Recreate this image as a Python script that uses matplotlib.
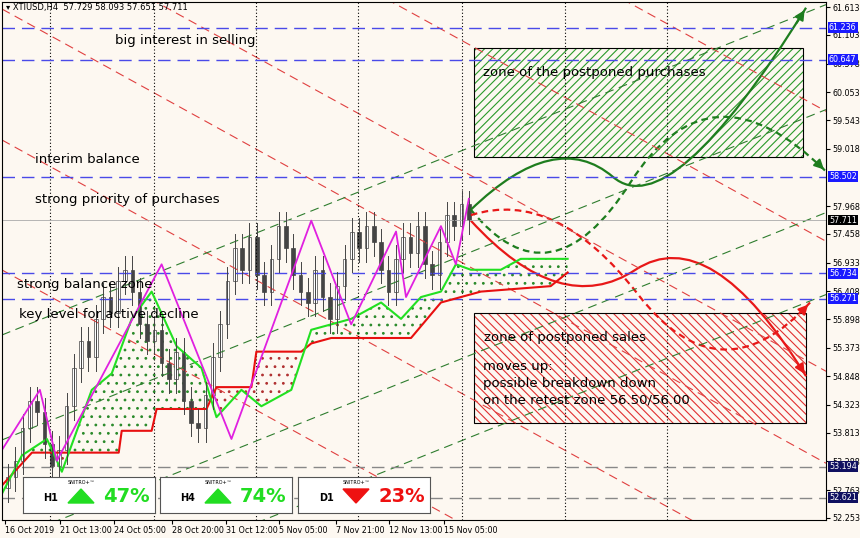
import matplotlib
matplotlib.use("Agg")
import matplotlib.pyplot as plt
from matplotlib.patches import Rectangle, Polygon
from matplotlib.path import Path
import matplotlib.patches as mpatches
import numpy as np

BG = "#fdf8f1"
plt.rcParams["hatch.linewidth"] = 0.8
# ---- data (x in chart pixel units, y in price) ----
closes = [53.0,53.3,53.9,54.4,54.2,53.6,53.2,53.5,54.3,55.0,55.5,55.2,55.9,56.3,56.0,56.6,56.8,56.4,55.8,55.5,
          55.7,55.1,54.8,55.3,54.4,54.0,53.9,54.5,55.2,55.8,56.6,57.2,56.8,57.4,56.7,56.4,57.0,57.6,57.2,56.7,
          56.4,56.2,56.8,56.3,55.9,56.5,57.0,57.5,57.2,57.6,57.3,56.8,56.4,57.0,57.4,57.1,57.6,56.9,56.7,57.3,
          57.8,57.6,58.0,57.711]
first_open = 52.8
blue_levels = [61.236, 60.647, 58.502, 56.734, 56.271]
gray_levels = [53.194, 52.621]
last_price = 57.711
yticks = [61.613,61.103,60.578,60.053,59.543,59.018,57.968,57.458,56.933,56.408,55.898,55.373,54.848,54.323,53.813,53.288,52.763,52.253]
xtick_pos = [3,58,112,170,225,278,335,388,443]
xtick_lab = ["16 Oct 2019","21 Oct 13:00","24 Oct 05:00","28 Oct 20:00","31 Oct 12:00","5 Nov 05:00","7 Nov 21:00","12 Nov 13:00","15 Nov 05:00"]
vlines = [48,152,255,357,461,564,667]
zig_x = [0,38,55,160,230,310,350,395,405,440,455,468]
zig_y = [53.5,54.6,53.3,56.9,53.7,57.7,55.8,57.5,56.3,57.6,56.9,58.1]
senB_x = [0,30,117,120,150,155,205,215,250,255,300,310,330,410,440,470,480,550,567]
senB_y = [52.85,53.45,53.45,53.85,53.85,54.25,54.25,54.65,54.65,55.30,55.30,55.45,55.55,55.55,56.20,56.35,56.40,56.50,56.75]
senA_x = [0,20,45,60,90,110,130,150,175,200,215,240,260,290,310,330,350,380,400,420,440,455,470,500,520,540,567]
senA_y = [52.7,53.4,53.7,53.1,54.6,54.9,55.9,56.4,55.4,55.0,54.1,54.6,54.3,54.6,55.7,55.8,55.9,56.2,55.9,56.3,56.4,56.9,56.8,56.8,57.0,57.0,57.0]
g_solid = ([470,555,670,806],[57.9,59.4,57.6,61.6])
g_dash  = ([470,550,710,826],[57.9,56.1,60.7,58.6])
r_solid = ([470,560,710,806],[57.7,55.9,57.7,54.85])
r_dash  = ([470,555,720,810],[57.8,58.3,54.4,56.2])
green_box = (473, 58.87, 330, 2.0)
red_box = (473, 54.0, 333, 2.0)

fig = plt.figure(figsize=(8.6,5.38), dpi=100, facecolor=BG)
ax = fig.add_axes([2/860, 18/538, 824/860, 518/538], facecolor=BG)
ax.set_xlim(0, 826); ax.set_ylim(52.216, 61.705)

def px2p(py): return 61.613-(py-7)/54.6
xs = np.array([0, 826])
for b in [-343,-213,-83,9,140,270]:
    ax.plot(xs, [px2p(b), px2p(b+0.55*826)], color="#e04040", ls=(0,(8,5)), lw=0.8)
for b in [335,440,543,625]:
    ax.plot(xs, [px2p(b), px2p(b-0.40*826)], color="#2e7d2e", ls=(0,(8,5)), lw=0.8)
for v in vlines:
    ax.axvline(v, color="black", ls=(0,(1,2)), lw=0.8)
for l in blue_levels:
    ax.axhline(l, color="#4a4ae8", ls=(0,(9,5)), lw=1)
for l in gray_levels:
    ax.axhline(l, color="#888888", ls=(0,(9,5)), lw=1)
ax.axhline(last_price, color="#aaaaaa", lw=0.6)

xg = np.linspace(0,567,300)
a = np.interp(xg, senA_x, senA_y); bb = np.interp(xg, senB_x, senB_y)
ax.fill_between(xg, a, bb, where=a>=bb, facecolor="none", hatch="..", edgecolor="#2a8a2a", lw=0)
ax.fill_between(xg, a, bb, where=a<bb, facecolor="none", hatch="..", edgecolor="#b03030", lw=0)
ax.plot(senB_x, senB_y, color="#e81010", lw=1.5)
ax.plot(senA_x, senA_y, color="#22e022", lw=1.5)

cx = np.linspace(6, 468, len(closes))
opens = [first_open]+closes[:-1]
for x,o,c in zip(cx,opens,closes):
    hi = max(o,c)+0.25; lo = min(o,c)-0.25
    ax.plot([x,x],[lo,hi], color="#444444", lw=0.7)
    ax.add_patch(Rectangle((x-1.8, min(o,c)), 3.6, max(abs(c-o),0.03),
                 facecolor="white" if c>=o else "#444444", edgecolor="#444444", lw=0.5))
ax.plot(zig_x, zig_y, color="#e020e0", lw=1.3)

for (x0,y0,w,h),col,hat in [(green_box,"#2a9a2a","////"),(red_box,"#e03030","\\\\\\\\")]:
    ax.add_patch(Rectangle((x0,y0),w,h, facecolor=BG, edgecolor=col, hatch=hat, lw=0))
    ax.add_patch(Rectangle((x0,y0),w,h, facecolor="none", edgecolor="black", lw=0.8))

def smooth(xp, yp, **kw):
    verts = [(xp[0],yp[0])]; codes=[Path.MOVETO]
    for i in range(1,len(xp)-1):
        mx=(xp[i]+xp[i+1])/2; my=(yp[i]+yp[i+1])/2
        if i==len(xp)-2: mx,my = xp[i+1],yp[i+1]
        verts += [(xp[i],yp[i]),(mx,my)]; codes += [Path.CURVE3,Path.CURVE3]
    ax.add_patch(mpatches.PathPatch(Path(verts,codes), facecolor="none", **kw))
    ax.annotate("", xy=(xp[-1],yp[-1]), xytext=(xp[-1]-(xp[-1]-xp[-2])*0.08, yp[-1]-(yp[-1]-yp[-2])*0.08),
                arrowprops=dict(arrowstyle="-|>", color=kw["edgecolor"], lw=1.5, mutation_scale=14))
smooth(*g_solid, edgecolor="#1e7d1e", lw=1.6)
smooth(*g_dash, edgecolor="#1e7d1e", lw=1.6, ls=(0,(3,2)))
smooth(*r_solid, edgecolor="#e81818", lw=1.6)
smooth(*r_dash, edgecolor="#e81818", lw=1.6, ls=(0,(3,2)))

fs = 9.5
for x,yp,t in [(113,40,"big interest in selling"),(33,160,"interim balance"),(33,200,"strong priority of purchases"),
               (15,285,"strong balance zone"),(17,315,"key level for active decline"),
               (482,72,"zone of the postponed purchases"),(483,338,"zone of postponed sales")]:
    ax.text(x, px2p(yp), t, fontsize=fs, va="center", color="black")
ax.text(482, px2p(360), "moves up:\npossible breakdown down\non the retest zone 56.50/56.00", fontsize=fs, va="top", linespacing=1.4)
ax.text(4, px2p(7), "▾ XTIUSD,H4  57.729 58.093 57.651 57.711", fontsize=6, va="center")

ax.yaxis.tick_right()
ax.set_yticks(yticks); ax.set_yticklabels([f"{v:.3f}" for v in yticks], fontsize=5.8)
ax.set_xticks(xtick_pos); ax.set_xticklabels(xtick_lab, fontsize=5.8, ha="left")
ax.tick_params(length=3, pad=1.5)
for l,fc in [(b,"#1a1aff") for b in blue_levels]+[(last_price,"black")]+[(g,"#101060") for g in gray_levels]:
    ax.text(829, l, f"{l:.3f}", fontsize=5.8, color="white", va="center", ha="left", clip_on=False,
            bbox=dict(boxstyle="square,pad=0.12", fc=fc, ec="none"))

for x0,tf,pct,up in [(23,"H1","47%",True),(160,"H4","74%",True),(298,"D1","23%",False)]:
    bx = fig.add_axes([x0/860, (538-513)/538, 132/860, 36/538], facecolor="white")
    bx.set_xlim(0,132); bx.set_ylim(0,36); bx.set_xticks([]); bx.set_yticks([])
    for s in bx.spines.values(): s.set_color("#555555")
    col = "#22dd22" if up else "#ee1111"
    bx.text(28, 15, tf, fontsize=7, fontweight="bold", ha="center", va="center")
    bx.text(58, 30, "SNITRO+™", fontsize=3.5, ha="center", va="center")
    tri = [(45,10),(71,10),(58,24)] if up else [(45,24),(71,24),(58,10)]
    bx.add_patch(Polygon(tri, color=col))
    bx.text(80, 17, pct, fontsize=14, fontweight="bold", color=col, va="center")

fig.savefig("out.png", dpi=100, facecolor=BG)
